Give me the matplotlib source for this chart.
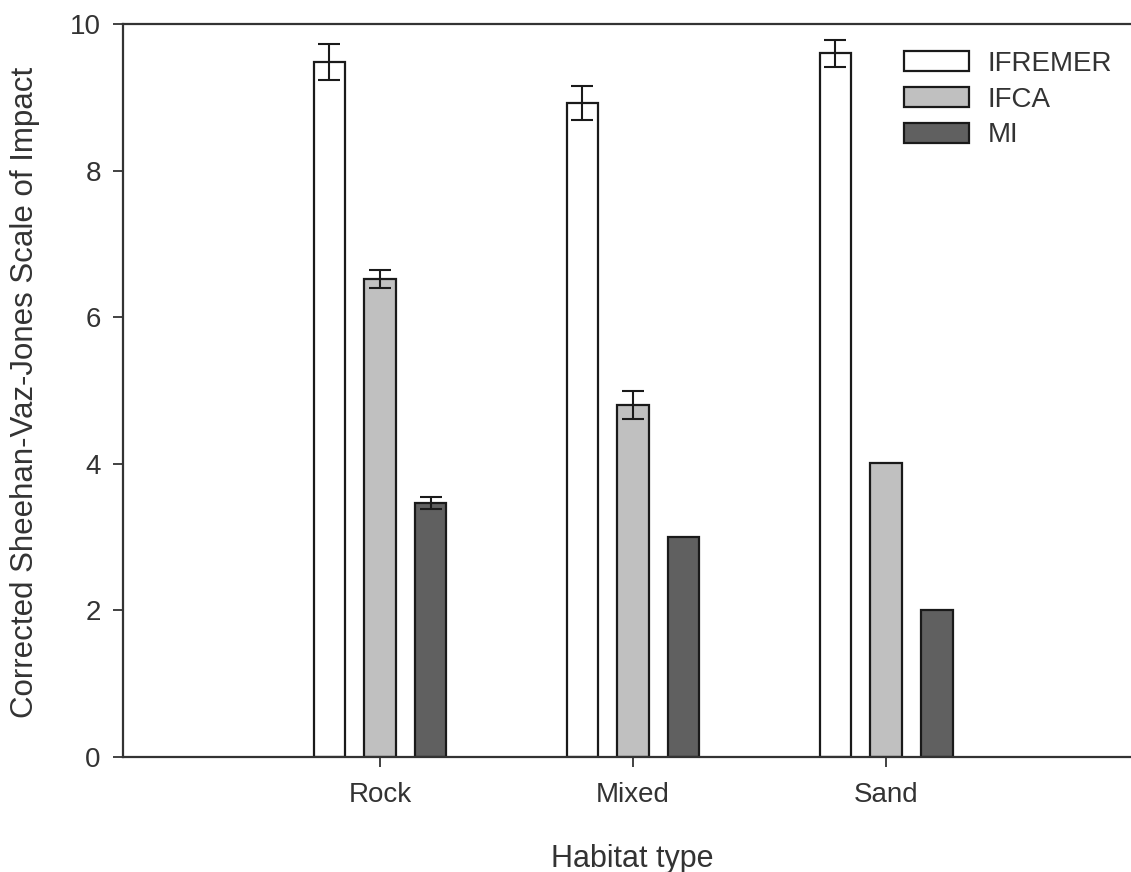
import numpy as np
import matplotlib
matplotlib.use('Agg')
import matplotlib.pyplot as plt

plt.rcParams['font.family'] = ['Liberation Sans', 'DejaVu Sans']

# data
habitats = ['Rock', 'Mixed', 'Sand']
groups = ['IFREMER', 'IFCA', 'MI']
ifremer = [9.48, 8.92, 9.60]
ifca = [6.52, 4.80, 4.01]
mi = [3.47, 3.00, 2.00]
ifremer_err = [0.25, 0.23, 0.18]
ifca_err = [0.12, 0.19, 0.0]
mi_err = [0.08, 0.0, 0.0]

fills = ['white', '#c0c0c0', '#606060']
txt = '#333333'

fig = plt.figure(figsize=(11.31, 8.72), dpi=100)
ax = fig.add_axes([123/1131, 1 - 757/872, 1 - 123/1131, (757 - 24)/872])

x = np.arange(len(habitats))
w = 0.125
offs = [-0.2, 0.0, 0.2]
series = [ifremer, ifca, mi]
errs = [ifremer_err, ifca_err, mi_err]

for vals, err, off, col, name in zip(series, errs, offs, fills, groups):
    ax.bar(x + off, vals, width=w, color=col, edgecolor='#1a1a1a',
           linewidth=1.6, label=name, zorder=2)
    e = np.array(err)
    m = e > 0
    ax.errorbar((x + off)[m], np.array(vals)[m], yerr=e[m], fmt='none',
                ecolor='#1a1a1a', elinewidth=1.5, capsize=8, capthick=1.5,
                zorder=3)

ax.set_xlim(-1.016, 2.968)
ax.set_ylim(0, 10)
ax.set_xticks(x)
ax.set_xticklabels(habitats)
ax.set_yticks([0, 2, 4, 6, 8, 10])

for s in ['left', 'top', 'bottom']:
    ax.spines[s].set_color('#333333')
    ax.spines[s].set_linewidth(1.6)
ax.spines['right'].set_visible(False)

ax.tick_params(axis='both', direction='out', length=7, width=1.3,
               color='#333333', labelcolor=txt, labelsize=20)
ax.tick_params(axis='x', pad=11)
ax.tick_params(axis='y', pad=9)

ax.set_xlabel('Habitat type', fontsize=22, color=txt)
ax.xaxis.set_label_coords((632 - 123) / 1008, (757 - 844) / 733)
ax.set_ylabel('Corrected Sheehan-Vaz-Jones Scale of Impact', fontsize=22.5,
              color=txt)
ax.yaxis.set_label_coords((40 - 123) / 1008, (757 - 392) / 733)

leg = ax.legend(loc='upper left', bbox_to_anchor=(904/1131, 1 - 51/872),
                bbox_transform=fig.transFigure, frameon=False, fontsize=20,
                handlelength=2.35, handleheight=0.72, labelspacing=0.35,
                handletextpad=0.65, borderaxespad=0, borderpad=0)
for t in leg.get_texts():
    t.set_color(txt)

fig.savefig('out.png', dpi=100)
